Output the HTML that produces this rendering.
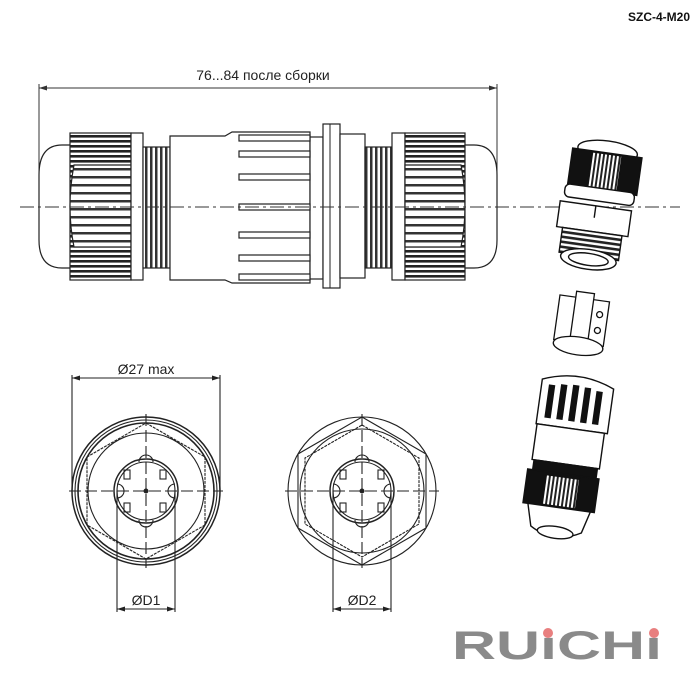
<!DOCTYPE html>
<html><head><meta charset="utf-8"><style>
html,body{margin:0;padding:0;background:#fff;}
svg{display:block;}
text{font-family:"Liberation Sans",sans-serif;}
</style></head><body>
<svg width="700" height="700" viewBox="0 0 700 700" xmlns="http://www.w3.org/2000/svg">
<defs>
<pattern id="hstr" width="4" height="5" patternUnits="userSpaceOnUse"><rect width="4" height="5" fill="#fff"/><rect width="4" height="2.6" fill="#222"/></pattern>
<pattern id="hstr2" width="4" height="8" patternUnits="userSpaceOnUse"><rect width="4" height="8" fill="#fff"/><rect width="4" height="2.5" fill="#333"/></pattern>
<pattern id="vstr" width="4" height="4" patternUnits="userSpaceOnUse"><rect width="4" height="4" fill="#fff"/><rect width="2" height="4" fill="#222"/></pattern>
<pattern id="thr" width="5" height="4" patternUnits="userSpaceOnUse"><rect width="5" height="4" fill="#fff"/><rect width="2.5" height="4" fill="#333"/></pattern>
</defs>
<text x="690" y="21" font-size="12" font-weight="bold" text-anchor="end" fill="#111">SZC-4-M20</text>

<g stroke="#333" stroke-width="1" fill="none">
<line x1="39" y1="84" x2="39" y2="200"/><line x1="497" y1="84" x2="497" y2="200"/>
<line x1="39" y1="88" x2="497" y2="88"/>
</g>
<path d="M39 88 l8 -2.5 v5z M497 88 l-8 -2.5 v5z" fill="#333"/>
<text x="263" y="80" font-size="14" text-anchor="middle" fill="#222">76...84 после сборки</text>

<g stroke="#222" stroke-width="1.2">
<path d="M72 145 H62 Q39 145 39 175 V240 Q39 268 62 268 H72Z" fill="#fff"/>
<rect x="70" y="133" width="61" height="147" fill="url(#hstr)"/>
<path d="M74 165 H131 V247 H74 Q66 207 74 165Z" fill="url(#hstr2)"/>
<rect x="131" y="133" width="12" height="147" fill="#fff"/>
<rect x="143" y="147" width="27" height="121" fill="url(#thr)"/>
<path d="M170 136 H225 L232 132 H310 V283 H232 L225 280 H170Z" fill="#fff"/>
<rect x="310" y="137" width="13" height="142" fill="#fff"/>
<rect x="323" y="124" width="17" height="164" fill="#fff"/>
<rect x="340" y="134" width="25" height="144" fill="#fff"/>
<rect x="365" y="147" width="27" height="121" fill="url(#thr)"/>
<rect x="392" y="133" width="13" height="147" fill="#fff"/>
<rect x="405" y="133" width="60" height="147" fill="url(#hstr)"/>
<path d="M405 165 H461 Q469 207 461 247 H405Z" fill="url(#hstr2)"/>
<path d="M465 145 H474 Q497 145 497 175 V240 Q497 268 474 268 H465Z" fill="#fff"/>
</g>
<g fill="#fff" stroke="#222" stroke-width="1.2">
<rect x="239" y="135" width="71" height="6"/>
<rect x="239" y="151" width="71" height="6"/>
<rect x="239" y="174" width="71" height="6"/>
<rect x="239" y="204" width="71" height="6"/>
<rect x="239" y="232" width="71" height="6"/>
<rect x="239" y="255" width="71" height="6"/>
<rect x="239" y="274" width="71" height="6"/>
</g>
<line x1="330" y1="124" x2="330" y2="288" stroke="#222"/>
<line x1="20" y1="207" x2="680" y2="207" stroke="#333" stroke-width="1" stroke-dasharray="14 4 3 4"/>

<g fill="none" stroke="#222" stroke-width="1.1">
<line x1="72" y1="375" x2="72" y2="491"/><line x1="220" y1="375" x2="220" y2="491"/>
<line x1="72" y1="378" x2="220" y2="378"/>
<circle cx="146" cy="491" r="74" stroke-width="1.5"/>
<circle cx="146" cy="491" r="71"/>
<circle cx="146" cy="491" r="68" stroke-width="1.6"/>
<polygon points="146,423 205,457 205,525 146,559 87,525 87,457" stroke-dasharray="3 1"/>
<circle cx="146" cy="491" r="58"/>
<circle cx="146" cy="491" r="32" stroke-width="1.5"/>
<circle cx="146" cy="491" r="29"/>
<line x1="117" y1="491" x2="117" y2="612"/><line x1="175" y1="491" x2="175" y2="612"/>
<line x1="117" y1="609" x2="175" y2="609"/>
<line x1="69" y1="491" x2="223" y2="491" stroke-dasharray="12 4"/>
<line x1="146" y1="414" x2="146" y2="568" stroke-dasharray="12 4"/>
<path d="M139 462 a7 7 0 0 1 14 0 M139 520 a7 7 0 0 0 14 0 M117 484 a7 7 0 0 1 0 14 M175 484 a7 7 0 0 0 0 14"/>
<rect x="124" y="470" width="6" height="9"/><rect x="160" y="470" width="6" height="9"/>
<rect x="124" y="503" width="6" height="9"/><rect x="160" y="503" width="6" height="9"/>
</g>
<circle cx="146" cy="491" r="2.5" fill="#222"/>
<path d="M72 378 l8 -2.5 v5z M220 378 l-8 -2.5 v5z M117 609 l8 -2.5 v5z M175 609 l-8 -2.5 v5z" fill="#222"/>
<text x="146" y="374" font-size="14" text-anchor="middle" fill="#222">Ø27 max</text>
<text x="146" y="605" font-size="14" text-anchor="middle" fill="#222">ØD1</text>

<g fill="none" stroke="#222" stroke-width="1.1">
<circle cx="362" cy="491" r="74"/>
<circle cx="362" cy="491" r="62"/>
<polygon points="362,417 426,454 426,528 362,565 298,528 298,454"/>
<polygon points="362,425 419,458 419,524 362,557 305,524 305,458" stroke-dasharray="3 1"/>
<circle cx="362" cy="491" r="32" stroke-width="1.5"/>
<circle cx="362" cy="491" r="29"/>
<line x1="333" y1="491" x2="333" y2="612"/><line x1="391" y1="491" x2="391" y2="612"/>
<line x1="333" y1="609" x2="391" y2="609"/>
<line x1="285" y1="491" x2="439" y2="491" stroke-dasharray="12 4"/>
<line x1="362" y1="414" x2="362" y2="568" stroke-dasharray="12 4"/>
<path d="M355 462 a7 7 0 0 1 14 0 M355 520 a7 7 0 0 0 14 0 M333 484 a7 7 0 0 1 0 14 M391 484 a7 7 0 0 0 0 14"/>
<rect x="340" y="470" width="6" height="9"/><rect x="378" y="470" width="6" height="9"/>
<rect x="340" y="503" width="6" height="9"/><rect x="378" y="503" width="6" height="9"/>
</g>
<circle cx="362" cy="491" r="2.5" fill="#222"/>
<path d="M333 609 l8 -2.5 v5z M391 609 l-8 -2.5 v5z" fill="#222"/>
<text x="362" y="605" font-size="14" text-anchor="middle" fill="#222">ØD2</text>

<g stroke="#111" stroke-width="1.4" transform="rotate(8 597 205)">
<ellipse cx="600" cy="150" rx="30" ry="10" fill="#fff"/>
<rect x="565" y="152" width="70" height="38" fill="#111"/>
<rect x="585" y="153" width="30" height="36" fill="url(#vstr)"/>
<rect x="563" y="188" width="70" height="13" rx="5" fill="#fff"/>
<rect x="560" y="206" width="72" height="26" fill="#fff"/>
<line x1="596" y1="206" x2="596" y2="218"/>
<rect x="566" y="232" width="60" height="25" fill="url(#hstr)"/>
<ellipse cx="596" cy="260" rx="28" ry="10" fill="#fff"/>
<ellipse cx="596" cy="260" rx="20" ry="6" fill="#fff"/>
</g>
<g stroke="#111" stroke-width="1.3" fill="#fff" transform="rotate(8 580 325)">
<rect x="556" y="298" width="50" height="45"/>
<rect x="572" y="292" width="18" height="52"/>
<ellipse cx="581" cy="346" rx="25" ry="9"/>
<circle cx="598" cy="312" r="3"/><circle cx="598" cy="328" r="3"/>
</g>
<g stroke="#111" stroke-width="1.4" transform="rotate(8 565 455)">
<path d="M532 383 Q568 368 604 383 V428 H532Z" fill="#fff"/>
<rect x="540" y="388" width="5" height="32" fill="#111"/>
<rect x="552" y="386" width="5" height="34" fill="#111"/>
<rect x="564" y="385" width="5" height="35" fill="#111"/>
<rect x="576" y="386" width="5" height="34" fill="#111"/>
<rect x="588" y="388" width="5" height="32" fill="#111"/>
<rect x="533" y="428" width="68" height="36" fill="#fff"/>
<rect x="535" y="464" width="64" height="10" fill="#111"/>
<rect x="530" y="474" width="72" height="34" fill="#111"/>
<rect x="549" y="477" width="34" height="30" fill="url(#vstr)"/>
<path d="M535 508 H598 L592 530 Q566 545 541 530Z" fill="#fff"/>
<ellipse cx="566" cy="533" rx="18" ry="6" fill="#fff"/>
</g>

<text x="452" y="659" font-size="40" font-weight="bold" fill="#8a8a8a" textLength="210" lengthAdjust="spacingAndGlyphs">RUıCHı</text>
<circle cx="548" cy="633" r="5" fill="#e87f7f"/>
<circle cx="654" cy="633" r="5" fill="#e87f7f"/>
</svg>
</body></html>
